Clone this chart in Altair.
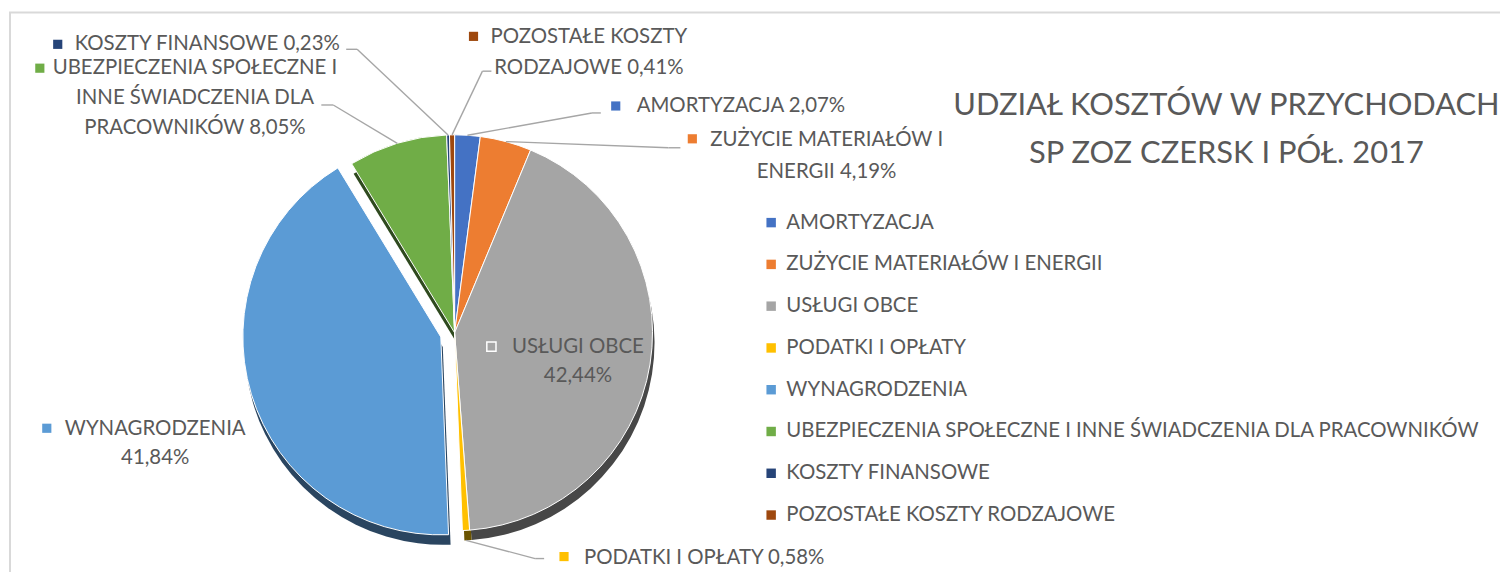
import altair as alt
import pandas as pd

# ---------------- data ----------------
categories = [
    "AMORTYZACJA",
    "ZUŻYCIE MATERIAŁÓW I ENERGII",
    "USŁUGI OBCE",
    "PODATKI I OPŁATY",
    "WYNAGRODZENIA",
    "UBEZPIECZENIA SPOŁECZNE I INNE ŚWIADCZENIA DLA PRACOWNIKÓW",
    "KOSZTY FINANSOWE",
    "POZOSTAŁE KOSZTY RODZAJOWE",
]
values = [2.07, 4.19, 42.44, 0.58, 41.84, 8.05, 0.23, 0.41]
title_lines = ["UDZIAŁ KOSZTÓW W PRZYCHODACH", "SP ZOZ CZERSK I PÓŁ. 2017"]

# ---------------- styles ----------------
colors = ["#4472C4", "#ED7D31", "#A5A5A5", "#FFC000", "#5B9BD5", "#70AD47", "#264478", "#9E480E"]
shadow_colors = ["#22395F", "#6E3A17", "#474747", "#6B5400", "#2A4560", "#2F4A1F", "#13223B", "#4A2207"]
FONT = "Lato"
FS = 20.5
TEXT_COLOR = "#595959"
LEADER_COLOR = "#A6A6A6"

# ---------------- layout (page px, page margin = 8) ----------------
PAGE = 8
CX, CY, R = 457 - PAGE, 333 - PAGE, 199
SHADOW = 10
SHADOW_X = 2
explode = {"WYNAGRODZENIA": 14.5}

# label placement: breaks = word index where a new line starts
label_layout = {
    "AMORTYZACJA": dict(breaks=[], align="left", x=640, y=105, lh=30, sq=(619, 105),
                        elbow=(595, 112), end=(604, 112)),
    "ZUŻYCIE MATERIAŁÓW I ENERGII": dict(breaks=[3], align="center", x=831, y=139, lh=32, sq=(696, 138),
                                         elbow=(672, 147), end=(684, 147)),
    "USŁUGI OBCE": dict(breaks=[2], align="center", x=581, y=347, lh=29, sq=(494, 347)),
    "PODATKI I OPŁATY": dict(breaks=[], align="left", x=587, y=559, lh=30, sq=(567, 558),
                             elbow=(538, 560), end=(547, 560)),
    "WYNAGRODZENIA": dict(breaks=[1], align="center", x=156, y=430, lh=29, sq=(47, 429)),
    "UBEZPIECZENIA SPOŁECZNE I INNE ŚWIADCZENIA DLA PRACOWNIKÓW": dict(
        breaks=[3, 6], align="center", x=196, y=67, lh=30, sq=(40, 67),
        elbow=(335, 104), end=(323, 104)),
    "KOSZTY FINANSOWE": dict(breaks=[], align="left", x=75, y=43, lh=30, sq=(58, 43),
                             elbow=(359, 48), end=(348, 48)),
    "POZOSTAŁE KOSZTY RODZAJOWE": dict(breaks=[2], align="center", x=592, y=36, lh=31, sq=(476, 35),
                                       elbow=(485, 70), end=(494, 70)),
}
inside_square_stroke = {"USŁUGI OBCE": "white"}

total = sum(values)


def pct(v):
    return f"{v:.2f}".replace(".", ",") + "%"


def lay_pt(c, key, k):
    lay = label_layout[c]
    return lay[key][k] - PAGE if key in lay else None


# ---------------- tables ----------------
slices = pd.DataFrame({
    "idx": list(range(len(categories))),
    "cat": categories,
    "value": values,
    "shadow": shadow_colors,
    "explode": [explode.get(c, 0.0) for c in categories],
    "ex": [lay_pt(c, "elbow", 0) for c in categories],
    "ey": [lay_pt(c, "elbow", 1) for c in categories],
    "nx": [lay_pt(c, "end", 0) for c in categories],
    "ny": [lay_pt(c, "end", 1) for c in categories],
})

text_rows = []
square_rows = []
for i, (c, v) in enumerate(zip(categories, values)):
    lay = label_layout[c]
    words = c.split(" ") + [pct(v)]
    cuts = [0] + lay["breaks"] + [len(words)]
    for k in range(len(cuts) - 1):
        text_rows.append({
            "cat": c,
            "line": " ".join(words[cuts[k]:cuts[k + 1]]),
            "tx": lay["x"] - PAGE,
            "ty": lay["y"] - PAGE + k * lay["lh"],
            "align": lay["align"],
        })
    square_rows.append({
        "cat": c,
        "sx": lay["sq"][0] - PAGE,
        "sy": lay["sq"][1] - PAGE,
        "sq_stroke": inside_square_stroke.get(c, "transparent"),
    })
texts = pd.DataFrame(text_rows)
squares = pd.DataFrame(square_rows)


def with_angles(ch):
    return ch.transform_window(
        cum="sum(value)", sort=[alt.SortField("idx")], frame=[None, 0]
    ).transform_joinaggregate(
        total="sum(value)"
    ).transform_calculate(
        t0="datum.cum - datum.value",
        mid="2*PI*(datum.cum - datum.value/2)/datum.total",
    )


color_scale = alt.Scale(domain=categories, range=colors)
theta_scale = alt.Scale(domain=[0, total], nice=False, zero=True)
noaxis = dict(scale=None, axis=None)

# shadow layer
shadow = with_angles(alt.Chart(slices)).transform_calculate(
    px=f"{CX} + datum.explode*sin(datum.mid) + {SHADOW_X}",
    py=f"{CY} - datum.explode*cos(datum.mid) + {SHADOW}",
).mark_arc(outerRadius=R).encode(
    theta=alt.Theta("t0:Q", stack=False, scale=theta_scale),
    theta2="cum:Q",
    x=alt.X("px:Q", **noaxis),
    y=alt.Y("py:Q", **noaxis),
    fill=alt.Fill("shadow:N", scale=None),
)

pie = with_angles(alt.Chart(slices)).transform_calculate(
    px=f"{CX} + datum.explode*sin(datum.mid)",
    py=f"{CY} - datum.explode*cos(datum.mid)",
).mark_arc(outerRadius=R, stroke="white", strokeWidth=1).encode(
    theta=alt.Theta("t0:Q", stack=False, scale=theta_scale),
    theta2="cum:Q",
    x=alt.X("px:Q", **noaxis),
    y=alt.Y("py:Q", **noaxis),
    color=alt.Color(
        "cat:N", scale=color_scale, sort=categories,
        legend=alt.Legend(
            title=None, orient="none", legendX=765 - PAGE, legendY=212 - PAGE,
            symbolType="square", symbolSize=90, symbolStrokeWidth=0,
            labelFont=FONT, labelFontSize=FS, labelColor=TEXT_COLOR,
            labelOffset=5, rowPadding=21, padding=0, labelLimit=0,
        ),
    ),
)

# leader lines: start on slice edge (derived from the data angle)
leader1 = with_angles(alt.Chart(slices)).transform_filter("isValid(datum.ex)").transform_calculate(
    sx=f"{CX} + {R}*sin(datum.mid)",
    sy=f"{CY} - {R}*cos(datum.mid) + max(0, -cos(datum.mid))*{SHADOW}",
).mark_rule(color=LEADER_COLOR, strokeWidth=1.4).encode(
    x=alt.X("sx:Q", **noaxis), y=alt.Y("sy:Q", **noaxis),
    x2="ex:Q", y2="ey:Q",
)
leader2 = alt.Chart(slices).transform_filter("isValid(datum.ex)").mark_rule(
    color=LEADER_COLOR, strokeWidth=1.4
).encode(
    x=alt.X("ex:Q", **noaxis), y=alt.Y("ey:Q", **noaxis),
    x2="nx:Q", y2="ny:Q",
)

label_squares = alt.Chart(squares).mark_square(size=85, opacity=1, strokeWidth=1.5).encode(
    x=alt.X("sx:Q", **noaxis), y=alt.Y("sy:Q", **noaxis),
    color=alt.Color("cat:N", scale=color_scale, sort=categories),
    stroke=alt.Stroke("sq_stroke:N", scale=None),
)

label_left = alt.Chart(texts).transform_filter("datum.align == 'left'").mark_text(
    align="left", baseline="middle", font=FONT, fontSize=FS, color=TEXT_COLOR
).encode(x=alt.X("tx:Q", **noaxis), y=alt.Y("ty:Q", **noaxis), text="line:N")
label_center = alt.Chart(texts).transform_filter("datum.align == 'center'").mark_text(
    align="center", baseline="middle", font=FONT, fontSize=FS, color=TEXT_COLOR
).encode(x=alt.X("tx:Q", **noaxis), y=alt.Y("ty:Q", **noaxis), text="line:N")

title_df = pd.DataFrame({"line": title_lines, "k": list(range(len(title_lines)))})
title = alt.Chart(title_df).transform_calculate(
    tx=f"{1233 - PAGE}", ty=f"{105 - PAGE} + datum.k*48"
).mark_text(align="center", baseline="middle", font=FONT, fontSize=31, color=TEXT_COLOR).encode(
    x=alt.X("tx:Q", **noaxis), y=alt.Y("ty:Q", **noaxis), text="line:N"
)

frame = alt.Chart(pd.DataFrame({"a": [0]})).mark_rect(
    fill="transparent", stroke="#D9D9D9", strokeWidth=2
).encode(x=alt.value(10 - PAGE), y=alt.value(11 - PAGE), x2=alt.value(1540), y2=alt.value(600))

chart = alt.layer(
    frame, shadow, pie, leader1, leader2, label_squares, label_left, label_center, title
).properties(
    width=1500, height=564, padding=0, autosize=alt.AutoSizeParams(type="none")
).configure_view(strokeWidth=0)

chart.save("out.html", embed_options={"renderer": "svg", "actions": False})
